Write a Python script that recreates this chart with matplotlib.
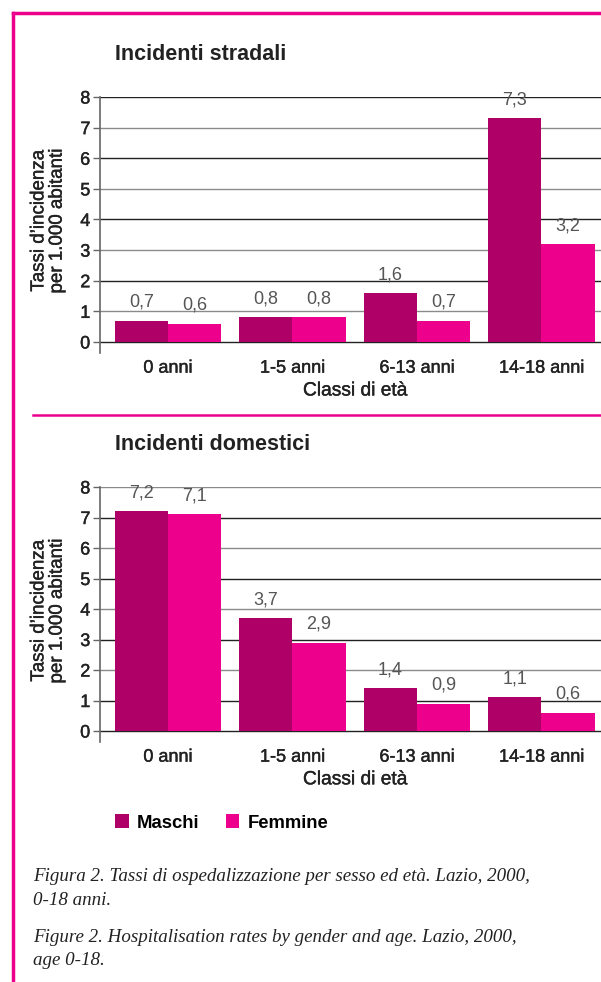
import numpy as np
import matplotlib
matplotlib.use("Agg")
import matplotlib.pyplot as plt
import matplotlib.patheffects as pe
from matplotlib.lines import Line2D

# dati: tassi per 1.000 abitanti
classi = ["0 anni", "1-5 anni", "6-13 anni", "14-18 anni"]
stradali_maschi = [0.7, 0.8, 1.6, 7.3]
stradali_femmine = [0.6, 0.8, 0.7, 3.2]
domestici_maschi = [7.2, 3.7, 1.4, 1.1]
domestici_femmine = [7.1, 2.9, 0.9, 0.6]
y_ticks = [0, 1, 2, 3, 4, 5, 6, 7, 8]

ROSA = "#EC008C"
PORPORA = "#AE0067"
SCURO = "#222222"
GRIGIO = "#8a8a8a"

plt.rcParams["font.family"] = ["Liberation Sans", "DejaVu Sans"]

# tratto leggero per simulare il peso "medium"
MEDIUM = [pe.withStroke(linewidth=0.3, foreground=SCURO)]

W, H = 601, 982
fig = plt.figure(figsize=(W / 100, H / 100), dpi=100)


def box(left, top, right, bottom):
    # rettangolo in pixel -> coordinate figura
    return [left / W, 1 - bottom / H, (right - left) / W, (bottom - top) / H]


def virgola(v):
    return f"{v:.1f}".replace(".", ",")


def grafico(top, bottom, maschi, femmine, titolo, pari_scuri):
    ax = fig.add_axes(box(100, top, W, bottom))
    x = np.arange(len(classi))
    w = 0.426
    b1 = ax.bar(x - w / 2, maschi, w, color=PORPORA, label="Maschi", zorder=2)
    b2 = ax.bar(x + w / 2, femmine, w, color=ROSA, label="Femmine", zorder=2)
    for bars, vals in ((b1, maschi), (b2, femmine)):
        for r, v in zip(bars, vals):
            ax.annotate(virgola(v), (r.get_x() + r.get_width() / 2, v),
                        xytext=(0, 7), textcoords="offset points",
                        ha="center", va="bottom", fontsize=13,
                        color="#555555", annotation_clip=False)

    ax.set_xlim(-0.546, 3.478)
    ax.set_ylim(-0.35, 8)
    for t in y_ticks:
        scuro = (t % 2 == 0) == pari_scuri or t == 0
        ax.axhline(t, color=SCURO if scuro else GRIGIO, lw=1.0, zorder=1)

    for s in ("top", "right", "bottom"):
        ax.spines[s].set_visible(False)
    ax.spines["left"].set_color("#666666")
    ax.spines["left"].set_linewidth(1.2)

    ax.set_yticks(y_ticks)
    ax.tick_params(axis="y", length=5, width=1, color="#666666", pad=2,
                   labelsize=13, labelcolor=SCURO)
    ax.set_xticks(x, classi)
    ax.tick_params(axis="x", length=0, pad=5, labelsize=13, labelcolor=SCURO)
    for lab in ax.get_xticklabels() + ax.get_yticklabels():
        lab.set_path_effects(MEDIUM)

    ax.text(1.5, -1.6, "Classi di età", ha="center", va="center",
            fontsize=13.8, color=SCURO, path_effects=MEDIUM)

    fig.text(115 / W, 1 - (top - 42) / H, titolo, fontsize=15.5,
             fontweight="bold", va="center", color=SCURO)
    fig.text(48 / W, 1 - (top + 124) / H,
             "Tassi d’incidenza\nper 1.000 abitanti", rotation=90,
             ha="center", va="center", multialignment="center",
             fontsize=13.5, color=SCURO, linespacing=1.1, path_effects=MEDIUM)
    return ax, b1, b2


grafico(97, 352.7, stradali_maschi, stradali_femmine,
        "Incidenti stradali", True)
ax2, m, f = grafico(487, 741.7, domestici_maschi, domestici_femmine,
                    "Incidenti domestici", False)

fig.legend(handles=[m, f], loc="center left",
           bbox_to_anchor=(115 / W, 1 - 823 / H), ncol=2, frameon=False,
           handlelength=0.75, handleheight=0.75, handletextpad=0.45,
           columnspacing=1.4, borderpad=0, borderaxespad=0,
           prop={"size": 13.3, "weight": "bold"})

# cornice rosa e separatore
fig.add_artist(Line2D([13 / W, 13 / W], [0, 1 - 13 / H], color=ROSA, lw=2.5))
fig.add_artist(Line2D([13 / W, 1], [1 - 13 / H, 1 - 13 / H], color=ROSA, lw=2.5))
fig.add_artist(Line2D([33 / W, 1], [1 - 415 / H, 1 - 415 / H], color=ROSA, lw=1.8))

didascalie = [
    (881, "Figura 2. Tassi di ospedalizzazione per sesso ed età. Lazio, 2000,"),
    (905, "0-18 anni."),
    (942, "Figure 2. Hospitalisation rates by gender and age. Lazio, 2000,"),
    (965, "age 0-18."),
]
for y, riga in didascalie:
    fig.text(33 / W, 1 - y / H, riga, family="Liberation Serif",
             style="italic", fontsize=13.7, va="baseline", color=SCURO)

fig.savefig("out.png", dpi=100)
